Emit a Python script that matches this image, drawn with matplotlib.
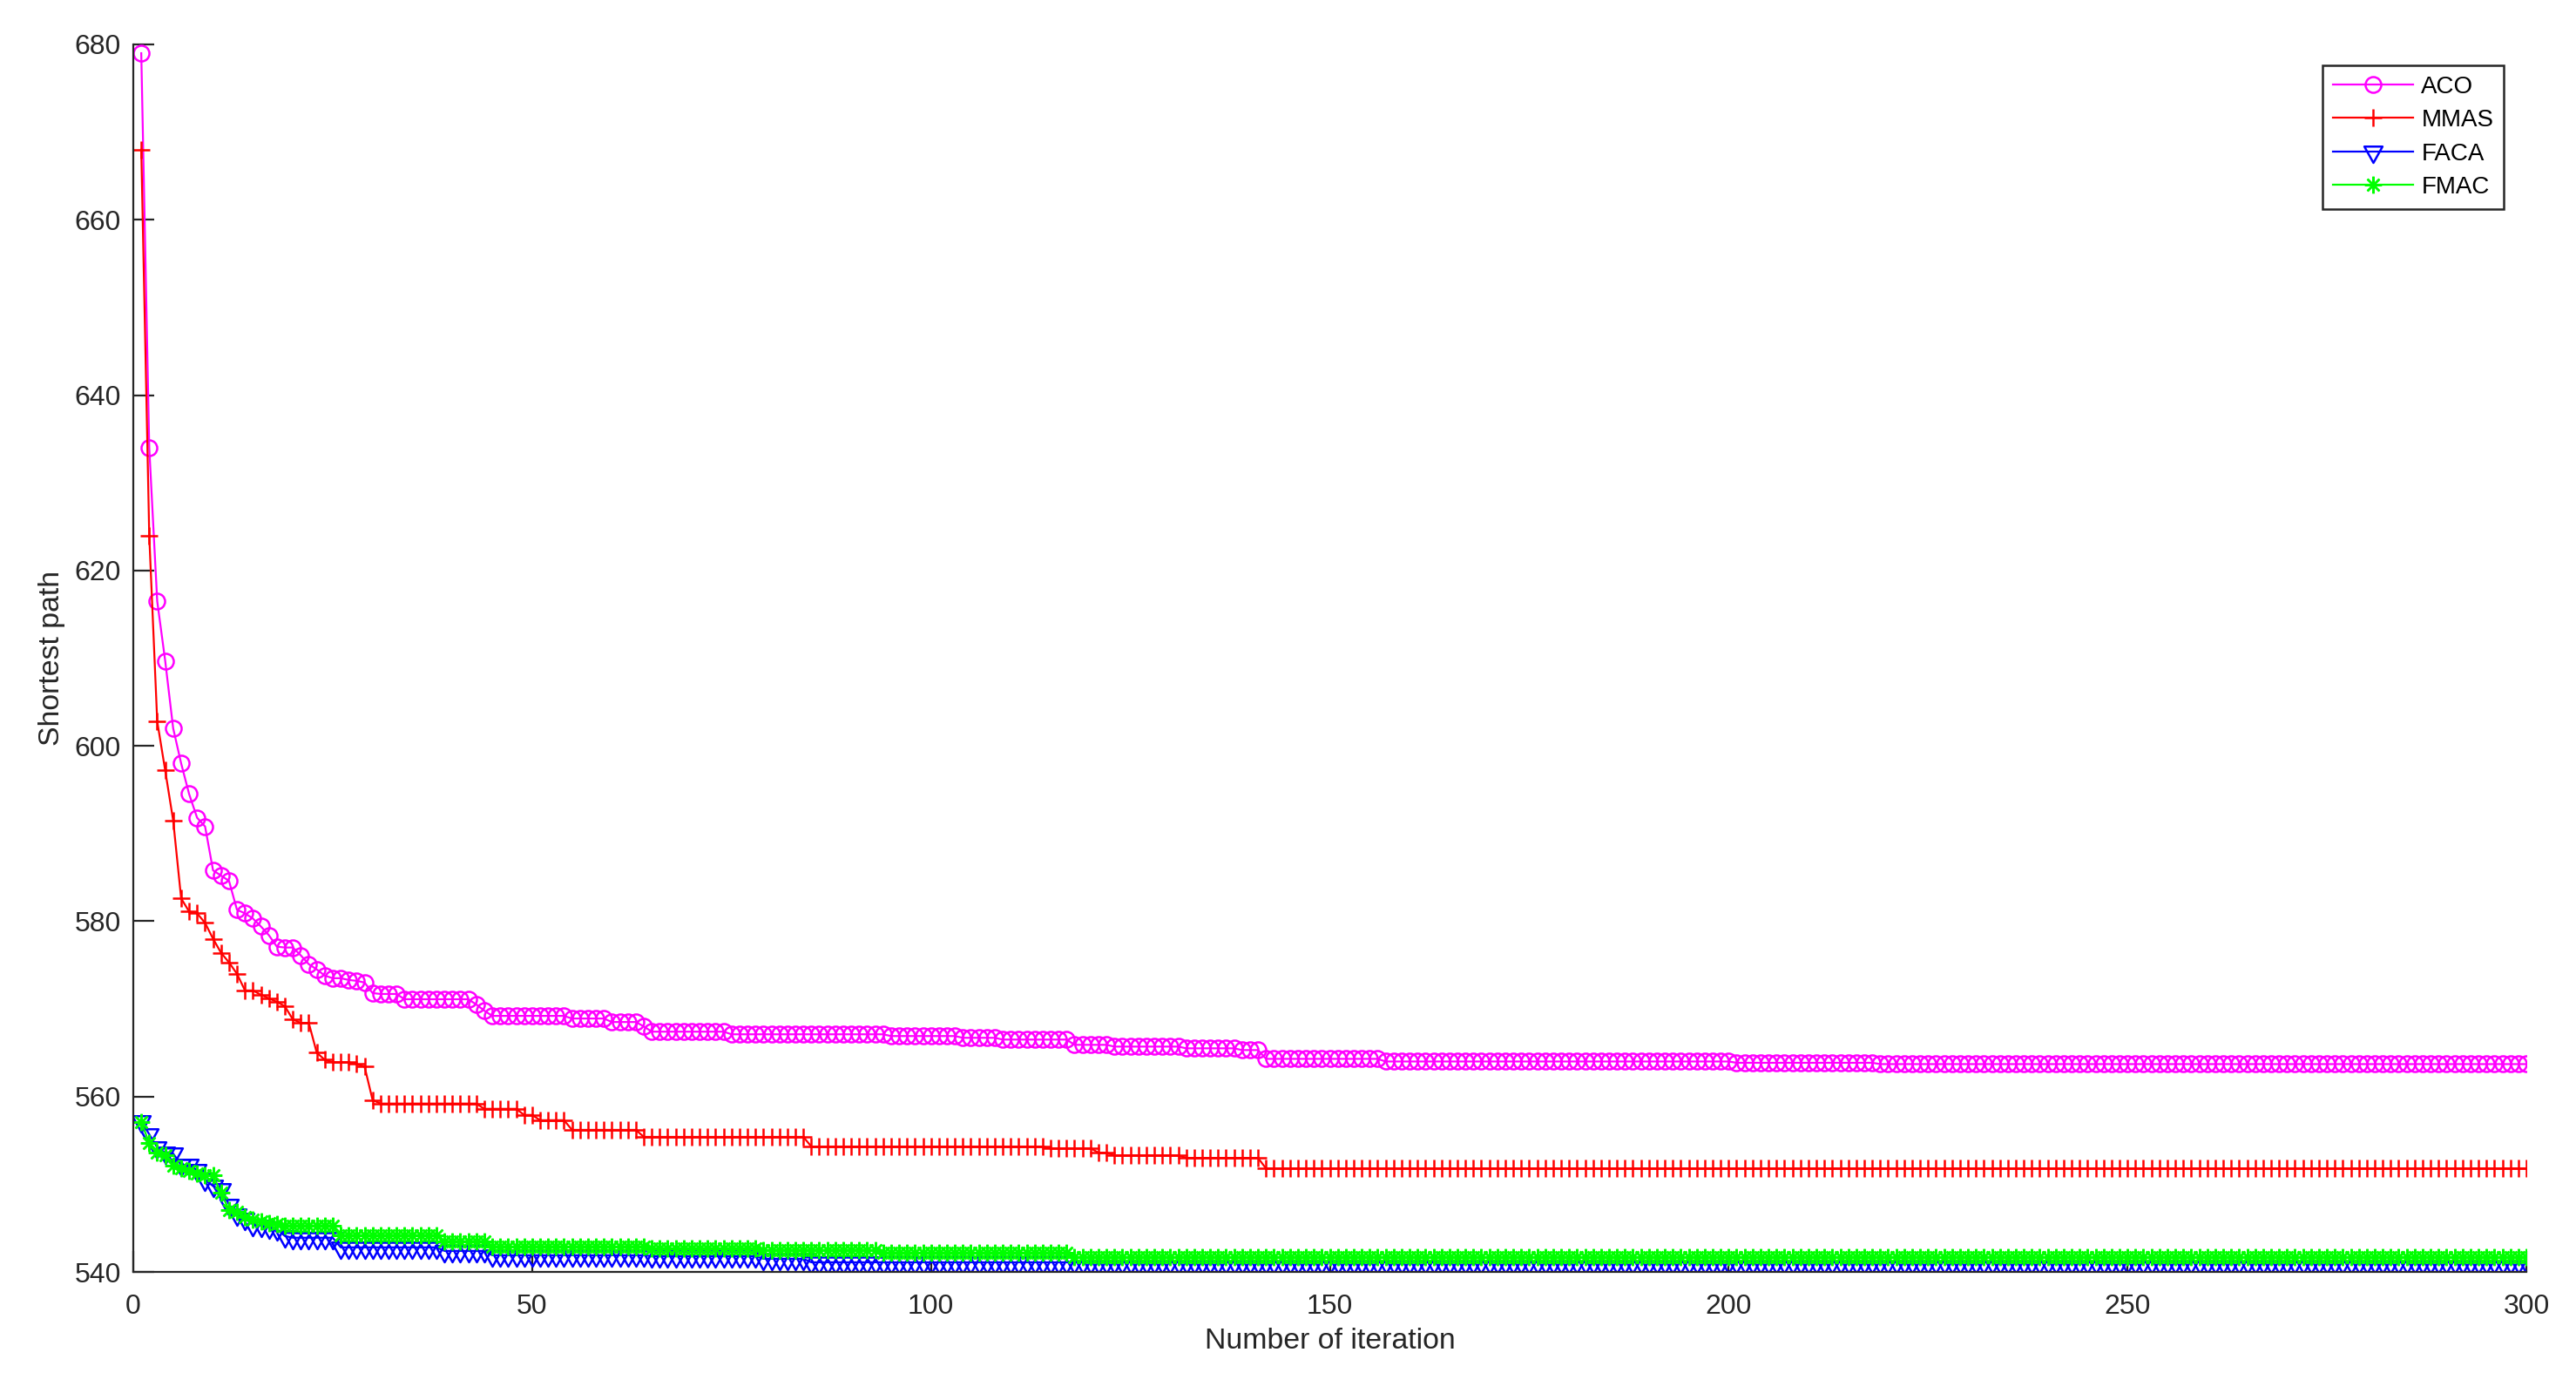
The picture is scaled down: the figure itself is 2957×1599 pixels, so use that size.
import numpy as np
import matplotlib
matplotlib.use("Agg")
import matplotlib.pyplot as plt
from matplotlib.path import Path

plt.rcParams['font.family'] = ['Liberation Sans', 'DejaVu Sans']

# ---- data (run-length encoded: number of iterations, value) ----
aco_len = [1, 1, 1, 1, 1, 1, 1, 1, 1, 1, 1, 1, 1, 1, 1, 1, 1, 1, 2, 1, 1, 1, 1, 2, 1, 1, 1, 1,
           3, 9, 1, 1, 10, 5, 4, 1, 10, 20, 9, 5, 9, 5, 9, 7, 3, 15, 44, 18, 82]
aco_val = [679.0, 634.0, 616.5, 609.7, 602.0, 598.0, 594.5, 591.8, 590.8, 585.8, 585.2, 584.6,
           581.3, 580.9, 580.3, 579.4, 578.4, 577.1, 577.0, 576.1, 575.1, 574.5, 573.8, 573.5,
           573.3, 573.2, 573.0, 571.8, 571.7, 571.1, 570.5, 569.8, 569.2, 568.9, 568.5, 568.0,
           567.4, 567.1, 566.9, 566.7, 566.5, 565.9, 565.7, 565.5, 565.3, 564.3, 564.0, 563.85, 563.7]

mmas_len = [1, 1, 1, 1, 1, 1, 1, 1, 1, 1, 1, 1, 1, 2, 1, 1, 1, 1, 1, 2, 1, 1, 3, 1, 1, 1,
            13, 5, 2, 4, 9, 21, 30, 6, 2, 9, 10, 159]
mmas_val = [668.0, 624.0, 602.8, 597.2, 591.5, 582.6, 581.1, 580.9, 579.8, 578.0, 576.4, 575.3,
            574.0, 572.1, 571.6, 571.2, 570.8, 570.3, 568.8, 568.4, 565.0, 564.2, 563.9, 563.7,
            563.4, 559.6, 559.2, 558.6, 557.9, 557.3, 556.2, 555.4, 554.3, 554.1, 553.6, 553.3,
            553.0, 551.8]

faca_len = [1, 1, 1, 1, 1, 1, 1, 1, 1, 1, 1, 1, 1, 1, 1, 1, 1, 1, 1, 6, 13, 6, 20, 14, 6, 216]
faca_val = [557.2, 555.7, 554.2, 553.6, 553.5, 552.2, 552.2, 551.6, 550.5, 549.8, 549.4, 547.7,
            546.6, 546.1, 545.4, 545.3, 545.1, 544.9, 544.1, 543.9, 542.8, 542.4, 541.9, 541.8,
            541.5, 541.1]

fmac_len = [1, 1, 1, 1, 1, 1, 1, 1, 1, 1, 1, 1, 1, 1, 1, 1, 1, 1, 7, 13, 6, 20, 14, 15, 24, 183]
fmac_val = [557.1, 554.7, 553.6, 553.3, 552.1, 551.8, 551.5, 551.2, 551.0, 551.0, 549.0, 547.1,
            546.9, 546.3, 546.0, 545.8, 545.6, 545.5, 545.3, 544.2, 543.5, 542.9, 542.7, 542.5,
            542.2, 541.7]

series_names = ['ACO', 'MMAS', 'FACA', 'FMAC']
x_ticks = [0, 50, 100, 150, 200, 250, 300]
y_ticks = [540, 560, 580, 600, 620, 640, 660, 680]

aco = np.repeat(aco_val, aco_len)
mmas = np.repeat(mmas_val, mmas_len)
faca = np.repeat(faca_val, faca_len)
fmac = np.repeat(fmac_val, fmac_len)
iters = np.arange(1, len(aco) + 1)

# ---- figure ----
W, H, DPI = 2957, 1599, 200
fig = plt.figure(figsize=(W / DPI, H / DPI), dpi=DPI)
x0, x1, y0, y1 = 153, 2900, 51, 1460
ax = fig.add_axes([x0 / W, 1 - y1 / H, (x1 - x0) / W, (y1 - y0) / H])

# MATLAB-like downward triangle centred at its centroid
tri = Path([(-0.5, 0.3), (0.5, 0.3), (0.0, -0.6), (-0.5, 0.3)],
           [Path.MOVETO, Path.LINETO, Path.LINETO, Path.CLOSEPOLY])

lw = 0.8
mew = 0.9
ax.plot(iters, aco, color=(1, 0, 1), lw=lw, marker='o', ms=6.5, mfc='none', mew=mew, label=series_names[0])
ax.plot(iters, mmas, color=(1, 0, 0), lw=lw, marker='+', ms=7.5, mew=mew, label=series_names[1])
ax.plot(iters, faca, color=(0, 0, 1), lw=lw, marker=tri, ms=9.0, mfc='none', mew=mew, label=series_names[2])
ax.plot(iters, fmac, color=(0, 1, 0), lw=lw, marker=(8, 2, 0), ms=7.0, mew=mew, label=series_names[3])

ax.set_xlim(0, 300)
ax.set_ylim(540, 680)
ax.set_xticks(x_ticks)
ax.set_yticks(y_ticks)

dark = '#262626'
for s in ['top', 'right']:
    ax.spines[s].set_visible(False)
for s in ['left', 'bottom']:
    ax.spines[s].set_color(dark)
    ax.spines[s].set_linewidth(0.8)
ax.tick_params(direction='in', length=8.5, width=0.8, color=dark, labelcolor=dark, labelsize=11.5)
ax.tick_params(axis='x', pad=9)
ax.tick_params(axis='y', pad=5)

ax.set_xlabel('Number of iteration', fontsize=12.2, color=dark, va='center')
ax.xaxis.set_label_coords(0.5, -(1539 - y1) / (y1 - y0))
ax.set_ylabel('Shortest path', fontsize=12.2, color=dark, va='center')
ax.yaxis.set_label_coords(-(x0 - 60) / (x1 - x0), 0.5)

leg = ax.legend(loc='upper right', bbox_to_anchor=(2874 / W, 1 - 75 / H), bbox_transform=fig.transFigure,
                borderaxespad=0, fancybox=False, framealpha=1, edgecolor=dark, fontsize=10,
                handlelength=3.3, handletextpad=0.35, labelspacing=0.45, borderpad=0.42, numpoints=1)
leg.get_frame().set_linewidth(0.9)

fig.savefig('out.png', dpi=DPI)
